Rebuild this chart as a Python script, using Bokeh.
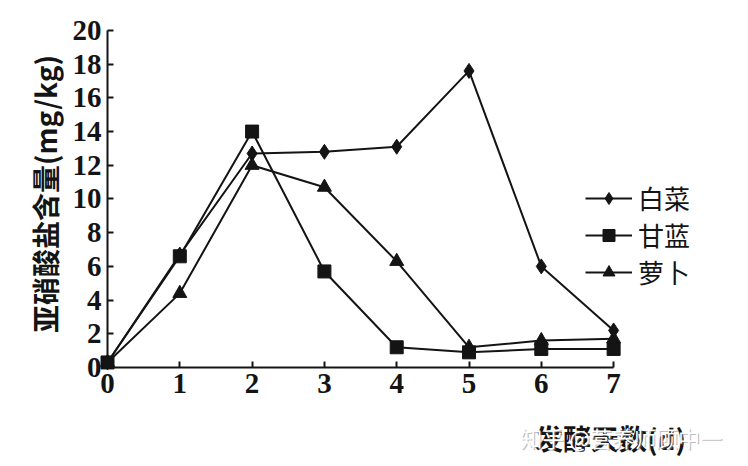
import math
from bokeh.plotting import figure
from bokeh.models import Range1d, Legend, LegendItem, Label, FixedTicker
from bokeh.embed import file_html
from bokeh.resources import INLINE

# ---- data ----
days = [0, 1, 2, 3, 4, 5, 6, 7]
baicai = [0.3, 6.7, 12.7, 12.8, 13.1, 17.6, 6.0, 2.2]   # 白菜
ganlan = [0.3, 6.6, 14.0, 5.7, 1.2, 0.9, 1.1, 1.1]      # 甘蓝
luobo = [0.3, 4.4, 12.0, 10.7, 6.3, 1.2, 1.6, 1.7]      # 萝卜
series_names = ["白菜", "甘蓝", "萝卜"]
x_ticks = [0, 1, 2, 3, 4, 5, 6, 7]
y_ticks = [0, 2, 4, 6, 8, 10, 12, 14, 16, 18, 20]
y_title = "亚硝酸盐含量(mg/kg)"
x_title = "发酵天数(d)"
watermark = "知乎 @营养师顾中一"

INK = "#141414"
SERIF = "Liberation Serif"
CJK = "Noto Sans CJK SC"

# the frame fills the whole canvas; axes sit at x=0 / y=0
p = figure(width=740, height=458, output_backend="svg", toolbar_location=None,
           x_range=Range1d(-1.480, 8.755), y_range=Range1d(-5.401, 21.78),
           min_border_left=0, min_border_right=0, min_border_top=0,
           min_border_bottom=0)
p.outline_line_color = None
p.grid.visible = False
p.background_fill_color = "white"
p.border_fill_color = "white"

for ax in (p.xaxis[0], p.yaxis[0]):
    ax.fixed_location = 0
    ax.axis_line_color = INK
    ax.axis_line_width = 2
    ax.major_tick_line_color = INK
    ax.major_tick_line_width = 2
    ax.major_tick_in = 6
    ax.major_tick_out = 0
    ax.minor_tick_line_color = None
    ax.major_label_text_font = SERIF
    ax.major_label_text_font_size = "29px"
    ax.major_label_text_font_style = "bold"
    ax.major_label_text_color = INK

p.xaxis.bounds = (0, 7)
p.yaxis.bounds = (0, 20)
p.xaxis.ticker = FixedTicker(ticks=x_ticks)
p.yaxis.ticker = FixedTicker(ticks=y_ticks)
p.xaxis.major_label_standoff = 7
p.yaxis.major_label_standoff = 6

# series
specs = [
    (series_names[0], baicai, "diamond", 15),
    (series_names[1], ganlan, "square", 13),
    (series_names[2], luobo, "triangle", 14),
]
items = []
for name, vals, marker, size in specs:
    r1 = p.line(days, vals, line_color=INK, line_width=2)
    r2 = p.scatter(days, vals, marker=marker, size=size,
                   fill_color=INK, line_color=INK)
    items.append(LegendItem(label=name, renderers=[r1, r2]))

legend = Legend(items=items, location=(585, 168), glyph_width=47,
                glyph_height=30, label_height=30, spacing=0, padding=0,
                margin=0, border_line_color=None, background_fill_alpha=0,
                label_text_font=CJK, label_text_font_size="26px",
                label_text_color=INK, label_standoff=6)
p.add_layout(legend)

# axis titles
yt = Label(x=-0.858, y=10.3, text=y_title, angle=math.pi / 2,
           text_align="center", text_baseline="middle", text_font=CJK,
           text_font_size="28px", text_font_style="bold", text_color=INK)
xt = Label(x=6.957, y=-4.21, text=x_title, text_align="center",
           text_baseline="middle", text_font=CJK, text_font_size="28px",
           text_font_style="bold", text_color=INK)
p.add_layout(yt)
p.add_layout(xt)

# watermark (white text with faint shadow)
wm_shadow = Label(x=5.725, y=-4.17, text=watermark, text_align="left",
                  text_baseline="middle", text_font=CJK, text_font_size="22px",
                  text_color="#8a8a8a", text_alpha=0.55)
wm = Label(x=5.71, y=-4.1, text=watermark, text_align="left",
           text_baseline="middle", text_font=CJK, text_font_size="22px",
           text_color="white")
p.add_layout(wm_shadow)
p.add_layout(wm)

open("out.html", "w").write(file_html(p, INLINE))
